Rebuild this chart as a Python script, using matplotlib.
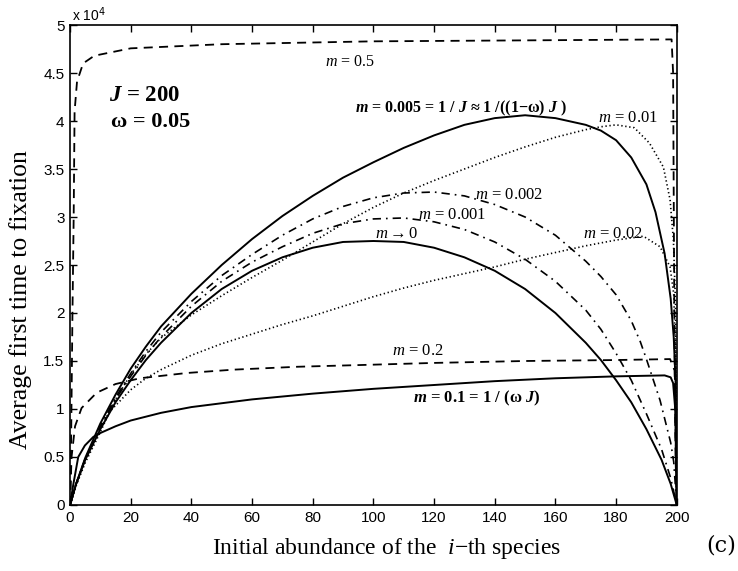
import matplotlib
matplotlib.use("Agg")
import matplotlib.pyplot as plt

# values in units of 1e4 generations
X_GRID = [0, 2, 5, 10, 15, 20, 25, 30, 40, 50, 60, 70, 80, 90, 100, 110, 120, 130, 140,
          150, 160, 170, 175, 180, 185, 190, 195, 198, 200]

T_NEUTRAL = [0, 0.22, 0.47, 0.79, 1.07, 1.30, 1.51, 1.69, 2.00, 2.25, 2.44, 2.58, 2.68,
             2.74, 2.75, 2.74, 2.68, 2.58, 2.44, 2.25, 2.00, 1.69, 1.51, 1.30, 1.07,
             0.79, 0.47, 0.22, 0]

T_M0001 = [0, 0.22, 0.48, 0.81, 1.10, 1.34, 1.56, 1.75, 2.07, 2.33, 2.53, 2.69, 2.83,
           2.93, 2.98, 2.99, 2.95, 2.87, 2.74, 2.56, 2.33, 2.03, 1.83, 1.58, 1.30,
           0.95, 0.58, 0.28, 0]

X_M0002 = [0, 2, 5, 10, 15, 20, 25, 30, 40, 50, 60, 70, 80, 90, 100, 110, 120, 130, 140,
           150, 160, 170, 175, 180, 185, 188, 190, 194.5, 198, 199, 200]
T_M0002 = [0, 0.22, 0.48, 0.82, 1.12, 1.37, 1.60, 1.80, 2.12, 2.39, 2.61, 2.81, 2.98,
           3.11, 3.20, 3.25, 3.26, 3.22, 3.13, 3.00, 2.81, 2.54, 2.38, 2.19, 1.92,
           1.70, 1.52, 1.09, 0.65, 0.45, 0]

X_M0005 = [0, 2, 5, 10, 15, 20, 25, 30, 40, 50, 60, 70, 80, 90, 100, 110, 120, 130, 140,
           150, 160, 170, 175, 180, 185, 190, 193, 196, 198, 199, 199.6, 200]
T_M0005 = [0, 0.22, 0.49, 0.85, 1.15, 1.42, 1.65, 1.86, 2.20, 2.50, 2.77, 3.01, 3.22,
           3.41, 3.57, 3.72, 3.85, 3.96, 4.03, 4.06, 4.03, 3.96, 3.90, 3.80, 3.62,
           3.34, 3.05, 2.62, 2.15, 1.75, 1.30, 0]

X_M001 = [0, 2, 5, 10, 15, 20, 25, 30, 40, 50, 60, 70, 80, 90, 100, 110, 120, 130, 140,
          150, 160, 170, 175, 180, 186, 191, 195.6, 197.8, 198.9, 199.6, 200]
T_M001 = [0, 0.21, 0.46, 0.79, 1.10, 1.36, 1.57, 1.74, 1.98, 2.18, 2.37, 2.55, 2.74,
          2.93, 3.10, 3.25, 3.38, 3.50, 3.62, 3.73, 3.83, 3.91, 3.94, 3.96, 3.93,
          3.77, 3.52, 3.18, 2.76, 2.10, 0]

X_M002 = [0, 2, 5, 10, 13, 20, 25, 30, 40, 50, 60, 70, 80, 90, 100, 110, 120, 130, 140,
          150, 160, 170, 180, 189, 194.5, 197.8, 199, 199.7, 200]
T_M002 = [0, 0.20, 0.44, 0.76, 0.97, 1.20, 1.32, 1.41, 1.56, 1.68, 1.78, 1.88, 1.97,
          2.07, 2.17, 2.26, 2.34, 2.41, 2.48, 2.56, 2.63, 2.70, 2.76, 2.80, 2.69,
          2.48, 2.20, 1.50, 0]

X_M01 = [0, 1, 2.7, 4.9, 7.7, 10, 15, 20, 30, 40, 60, 80, 100, 120, 140, 160, 180,
         196, 198, 198.8, 199.5, 200]
T_M01 = [0, 0.20, 0.50, 0.62, 0.71, 0.75, 0.82, 0.88, 0.96, 1.02, 1.10, 1.16, 1.21,
         1.25, 1.29, 1.32, 1.34, 1.35, 1.33, 1.27, 1.00, 0]

X_M02 = [0, 0.5, 1.65, 3.8, 8.8, 15, 23, 38.5, 54, 75, 98, 120, 150, 180, 197.8,
         199.3, 200]
T_M02 = [0, 0.50, 0.82, 1.01, 1.17, 1.26, 1.32, 1.375, 1.41, 1.44, 1.46, 1.48, 1.50,
         1.51, 1.52, 1.40, 0]

X_M05 = [0, 0.3, 0.8, 1.2, 1.5, 2.3, 4.3, 8, 20, 50, 100, 150, 198.3, 198.8, 199.2,
         199.6, 200]
T_M05 = [0, 0.5, 2.0, 3.0, 4.1, 4.41, 4.60, 4.68, 4.757, 4.80, 4.83, 4.84, 4.85,
         4.50, 2.00, 0.50, 0]

X_TICKS = list(range(0, 201, 20))
Y_TICKS = [0, 0.5, 1, 1.5, 2, 2.5, 3, 3.5, 4, 4.5, 5]

SERIF = "Liberation Serif"
plt.rcParams.update({
    "font.family": "Liberation Sans",
    "mathtext.fontset": "custom",
    "mathtext.rm": SERIF,
    "mathtext.it": SERIF + ":italic",
    "mathtext.bf": SERIF + ":bold",
    "mathtext.bfit": SERIF + ":bold:italic",
})

fig = plt.figure(figsize=(7.38, 5.71), dpi=100)
ax = fig.add_axes([0.0949, 0.1156, 0.8221, 0.8406])

k = "black"
lw = 1.4
ax.plot(X_GRID, T_NEUTRAL, color=k, lw=lw)
ax.plot(X_GRID, T_M0001, color=k, lw=1.2, dashes=(5, 3, 1, 3))
ax.plot(X_M0002, T_M0002, color=k, lw=1.2, dashes=(5, 3, 1, 3))
ax.plot(X_M0005, T_M0005, color=k, lw=lw)
ax.plot(X_M001, T_M001, color=k, lw=1.2, dashes=(0.8, 1.6))
ax.plot(X_M002, T_M002, color=k, lw=1.2, dashes=(0.8, 1.6))
ax.plot(X_M01, T_M01, color=k, lw=lw)
ax.plot(X_M02, T_M02, color=k, lw=1.3, dashes=(5, 3.5))
ax.plot(X_M05, T_M05, color=k, lw=1.3, dashes=(5, 3.5))

ax.set_xlim(0, 200)
ax.set_ylim(0, 5)
ax.set_xticks(X_TICKS)
ax.set_yticks(Y_TICKS)
ax.set_yticklabels([f"{v:g}" for v in Y_TICKS])
ax.tick_params(direction="in", length=5, width=1, labelsize=11, top=True, right=True,
               pad=4)
for s in ax.spines.values():
    s.set_linewidth(1.2)

ax.set_xlabel("Initial abundance of the  $i$\u2212th species", family=SERIF,
              fontsize=17)
ax.xaxis.set_label_coords(0.522, -0.064)
ax.set_ylabel("Average first time to fixation", family=SERIF, fontsize=18.5)
ax.yaxis.set_label_coords(-0.062, 0.427)

fig.text(0.098, 0.974, "x 10$^{4}$", fontsize=10, ha="left", va="center",
         math_fontfamily="dejavusans")
fig.text(0.997, 0.045, "(c)", family="DejaVu Serif", fontsize=16, ha="right",
         va="center")

tk = dict(family=SERIF, va="center", ha="left")
ax.text(13.0, 4.27, "$\\mathbfit{J}$ = 200", fontsize=16.5, weight="bold", **tk)
ax.text(13.4, 3.99, "\u03c9 = 0.05", fontsize=16, weight="bold", **tk)
ax.text(94, 4.13,
        "$\\mathbfit{m}$ = 0.005 = 1 / $\\mathbfit{J}$ \u2248 1 /((1\u2212\u03c9) $\\mathbfit{J}$ )",
        fontsize=11.5, weight="bold", **tk)
ax.text(84, 4.61, "$m$ = 0.5", fontsize=11.5, **tk)
ax.text(174, 4.03, "$m$ = 0.01", fontsize=12, **tk)
ax.text(133.5, 3.23, "$m$ = 0.002", fontsize=12, **tk)
ax.text(114.8, 3.02, "$m$ = 0.001", fontsize=12, **tk)
ax.text(100.5, 2.82, "$m \\rightarrow 0$", fontsize=12, **tk)
ax.text(169, 2.82, "$m$ = 0.02", fontsize=12, **tk)
ax.text(106, 1.60, "$m$ = 0.2", fontsize=12, **tk)
ax.text(113, 1.11, "$\\mathbfit{m}$ = 0.1 = 1 / (\u03c9 $\\mathbfit{J}$)", fontsize=12,
        weight="bold", **tk)

fig.savefig("out.png", dpi=100)
